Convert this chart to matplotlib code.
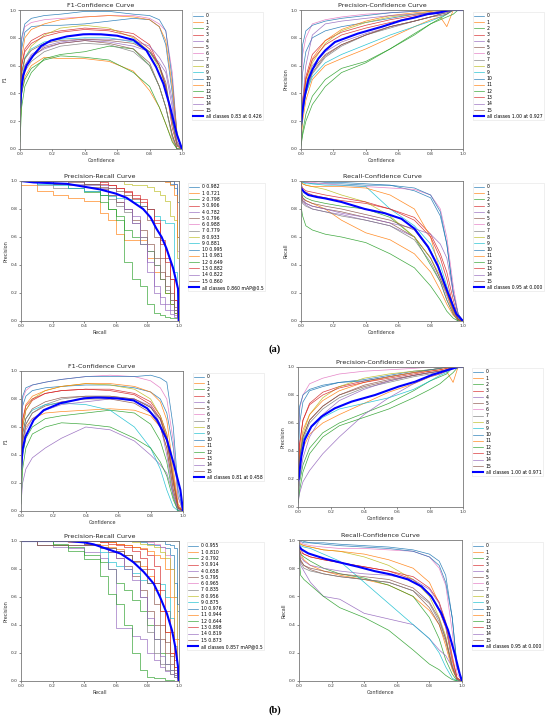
import matplotlib
matplotlib.use('Agg')
import matplotlib.pyplot as plt

W, H = 550, 718

CLASSES = [str(i) for i in range(16)]
CONF = [0, 0.01, 0.03, 0.07, 0.15, 0.25, 0.4, 0.55, 0.7, 0.8, 0.86, 0.9, 0.94, 0.97, 1.0]
RECALL = [0, 0.1, 0.2, 0.3, 0.4, 0.5, 0.55, 0.6, 0.65, 0.7, 0.75, 0.8, 0.84, 0.88, 0.91, 0.94, 0.97, 0.99, 1.0]

# ---------------- (a) ----------------
F1_A = [
    [0.35, 0.72, 0.84, 0.88, 0.89, 0.89, 0.9, 0.92, 0.94, 0.93, 0.88, 0.75, 0.4, 0.1, 0.0],
    [0.1, 0.4, 0.52, 0.6, 0.66, 0.65, 0.65, 0.63, 0.56, 0.42, 0.3, 0.18, 0.06, 0.0, 0.0],
    [0.05, 0.3, 0.45, 0.55, 0.65, 0.68, 0.7, 0.74, 0.72, 0.6, 0.45, 0.3, 0.1, 0.0, 0.0],
    [0.3, 0.6, 0.72, 0.78, 0.83, 0.85, 0.87, 0.86, 0.83, 0.75, 0.6, 0.45, 0.2, 0.05, 0.0],
    [0.2, 0.5, 0.6, 0.67, 0.72, 0.76, 0.78, 0.77, 0.74, 0.7, 0.62, 0.55, 0.3, 0.05, 0.0],
    [0.15, 0.45, 0.58, 0.66, 0.73, 0.76, 0.78, 0.76, 0.72, 0.62, 0.45, 0.3, 0.1, 0.0, 0.0],
    [0.4, 0.78, 0.88, 0.91, 0.93, 0.94, 0.95, 0.96, 0.96, 0.94, 0.9, 0.85, 0.55, 0.1, 0.0],
    [0.15, 0.45, 0.56, 0.63, 0.7, 0.74, 0.76, 0.75, 0.7, 0.6, 0.45, 0.3, 0.08, 0.0, 0.0],
    [0.2, 0.5, 0.65, 0.74, 0.82, 0.87, 0.89, 0.87, 0.8, 0.7, 0.58, 0.45, 0.2, 0.03, 0.0],
    [0.25, 0.55, 0.66, 0.72, 0.77, 0.79, 0.8, 0.8, 0.77, 0.7, 0.6, 0.45, 0.2, 0.03, 0.0],
    [0.45, 0.8, 0.9, 0.94, 0.96, 0.97, 0.99, 0.99, 0.97, 0.96, 0.93, 0.85, 0.5, 0.1, 0.0],
    [0.3, 0.65, 0.8, 0.86, 0.9, 0.93, 0.95, 0.96, 0.95, 0.93, 0.88, 0.78, 0.45, 0.1, 0.0],
    [0.1, 0.4, 0.5, 0.58, 0.64, 0.67, 0.66, 0.64, 0.55, 0.45, 0.3, 0.18, 0.05, 0.0, 0.0],
    [0.3, 0.6, 0.7, 0.76, 0.81, 0.84, 0.86, 0.85, 0.81, 0.72, 0.6, 0.45, 0.15, 0.02, 0.0],
    [0.2, 0.5, 0.6, 0.68, 0.74, 0.77, 0.79, 0.79, 0.78, 0.74, 0.66, 0.58, 0.35, 0.08, 0.0],
    [0.25, 0.55, 0.65, 0.71, 0.76, 0.78, 0.79, 0.78, 0.76, 0.7, 0.6, 0.48, 0.2, 0.03, 0.0],
]
F1_A_ALL_X = [0, 0.01, 0.02, 0.04, 0.08, 0.13, 0.19, 0.29, 0.39, 0.43, 0.5, 0.6, 0.7, 0.78, 0.84, 0.885, 0.925, 0.967, 1.0]
F1_A_ALL_Y = [0.3, 0.45, 0.53, 0.6, 0.67, 0.74, 0.78, 0.81, 0.825, 0.826, 0.825, 0.815, 0.785, 0.71, 0.59, 0.47, 0.31, 0.11, 0.0]

PC_A = [
    [0.3, 0.55, 0.7, 0.8, 0.85, 0.88, 0.91, 0.94, 0.97, 0.98, 0.99, 1.0, 1.0, 1.0, 1.0],
    [0.05, 0.2, 0.35, 0.5, 0.6, 0.65, 0.72, 0.8, 0.88, 0.93, 0.95, 0.88, 1.0, 1.0, 1.0],
    [0.03, 0.12, 0.25, 0.38, 0.5, 0.58, 0.63, 0.72, 0.83, 0.9, 0.94, 0.97, 1.0, 1.0, 1.0],
    [0.15, 0.35, 0.52, 0.68, 0.78, 0.84, 0.89, 0.93, 0.96, 0.98, 0.99, 1.0, 1.0, 1.0, 1.0],
    [0.1, 0.3, 0.45, 0.6, 0.7, 0.77, 0.83, 0.88, 0.92, 0.95, 0.97, 0.99, 1.0, 1.0, 1.0],
    [0.08, 0.28, 0.42, 0.55, 0.67, 0.75, 0.82, 0.88, 0.92, 0.95, 0.97, 0.98, 1.0, 1.0, 1.0],
    [0.35, 0.68, 0.8, 0.9, 0.93, 0.95, 0.97, 0.98, 0.99, 1.0, 1.0, 1.0, 1.0, 1.0, 1.0],
    [0.08, 0.25, 0.4, 0.54, 0.66, 0.74, 0.82, 0.87, 0.92, 0.95, 0.97, 0.98, 1.0, 1.0, 1.0],
    [0.1, 0.3, 0.47, 0.62, 0.76, 0.85, 0.91, 0.95, 0.97, 0.99, 1.0, 1.0, 1.0, 1.0, 1.0],
    [0.1, 0.25, 0.4, 0.52, 0.62, 0.68, 0.75, 0.82, 0.88, 0.92, 0.95, 0.97, 1.0, 1.0, 1.0],
    [0.5, 0.75, 0.85, 0.89, 0.92, 0.94, 0.96, 0.98, 0.99, 1.0, 1.0, 1.0, 1.0, 1.0, 1.0],
    [0.15, 0.35, 0.5, 0.65, 0.78, 0.86, 0.92, 0.96, 0.98, 0.99, 1.0, 1.0, 1.0, 1.0, 1.0],
    [0.02, 0.1, 0.2, 0.32, 0.45, 0.55, 0.62, 0.72, 0.82, 0.9, 0.93, 0.95, 0.97, 1.0, 1.0],
    [0.12, 0.32, 0.5, 0.64, 0.75, 0.82, 0.87, 0.91, 0.95, 0.97, 0.98, 0.99, 1.0, 1.0, 1.0],
    [0.1, 0.35, 0.6, 0.82, 0.9, 0.92, 0.94, 0.96, 0.97, 0.98, 0.99, 1.0, 1.0, 1.0, 1.0],
    [0.1, 0.28, 0.43, 0.57, 0.68, 0.75, 0.82, 0.88, 0.92, 0.95, 0.96, 0.97, 1.0, 1.0, 1.0],
]
PC_A_ALL_X = [0, 0.01, 0.02, 0.045, 0.07, 0.107, 0.15, 0.21, 0.28, 0.35, 0.5, 0.62, 0.7, 0.78, 0.85, 0.9, 0.927, 1.0]
PC_A_ALL_Y = [0.18, 0.28, 0.36, 0.5, 0.57, 0.65, 0.71, 0.77, 0.8, 0.83, 0.88, 0.925, 0.945, 0.97, 0.98, 0.995, 1.0, 1.0]

PR_A = [
    [1, 1, 1, 1, 1, 1, 1, 1, 1, 1, 1, 1, 1, 1, 1, 0.98, 0.95, 0.6, 0.0],
    [0.97, 0.93, 0.9, 0.88, 0.86, 0.77, 0.72, 0.62, 0.58, 0.58, 0.58, 0.45, 0.35, 0.3, 0.2, 0.12, 0.06, 0.02, 0.0],
    [1, 1, 0.98, 0.95, 0.92, 0.85, 0.8, 0.75, 0.65, 0.6, 0.55, 0.5, 0.4, 0.3, 0.2, 0.12, 0.06, 0.02, 0.0],
    [1, 1, 1, 1, 1, 0.99, 0.97, 0.95, 0.93, 0.9, 0.87, 0.8, 0.7, 0.55, 0.45, 0.3, 0.15, 0.05, 0.0],
    [1, 1, 1, 0.98, 0.97, 0.95, 0.9, 0.85, 0.8, 0.75, 0.6, 0.42, 0.25, 0.17, 0.12, 0.08, 0.04, 0.02, 0.0],
    [1, 1, 0.98, 0.97, 0.96, 0.94, 0.9, 0.85, 0.8, 0.72, 0.65, 0.55, 0.45, 0.35, 0.25, 0.15, 0.08, 0.03, 0.0],
    [1, 1, 1, 1, 1, 1, 1, 1, 1, 1, 1, 1, 1, 1, 1, 1, 0.98, 0.5, 0.0],
    [1, 0.97, 0.95, 0.95, 0.93, 0.9, 0.87, 0.82, 0.78, 0.7, 0.6, 0.5, 0.4, 0.3, 0.22, 0.15, 0.08, 0.03, 0.0],
    [1, 1, 1, 1, 1, 1, 1, 1, 0.98, 0.97, 0.97, 0.96, 0.93, 0.9, 0.86, 0.75, 0.72, 0.45, 0.0],
    [1, 0.98, 0.97, 0.95, 0.93, 0.9, 0.89, 0.88, 0.87, 0.85, 0.82, 0.8, 0.75, 0.72, 0.7, 0.7, 0.35, 0.1, 0.0],
    [1, 1, 1, 1, 1, 1, 1, 1, 1, 1, 1, 1, 1, 1, 1, 1, 0.98, 0.85, 0.0],
    [1, 1, 1, 1, 1, 1, 1, 1, 1, 1, 1, 1, 1, 1, 0.99, 0.97, 0.9, 0.6, 0.0],
    [1, 1, 1, 1, 0.98, 0.9, 0.8, 0.72, 0.42, 0.3, 0.25, 0.12, 0.06, 0.04, 0.03, 0.02, 0.02, 0.02, 0.0],
    [1, 1, 1, 1, 1, 0.98, 0.97, 0.95, 0.92, 0.88, 0.85, 0.8, 0.72, 0.58, 0.42, 0.3, 0.15, 0.05, 0.0],
    [1, 1, 1, 1, 0.98, 0.97, 0.95, 0.9, 0.8, 0.7, 0.55, 0.35, 0.2, 0.12, 0.08, 0.05, 0.03, 0.01, 0.0],
    [1, 1, 1, 0.99, 0.98, 0.96, 0.95, 0.93, 0.9, 0.87, 0.82, 0.72, 0.6, 0.45, 0.32, 0.2, 0.1, 0.03, 0.0],
]
MAP_A = [0.982, 0.721, 0.798, 0.906, 0.782, 0.796, 0.988, 0.779, 0.933, 0.881, 0.995, 0.981, 0.649, 0.882, 0.822, 0.860]
PR_A_ALL_X = [0, 0.08, 0.29, 0.5, 0.6, 0.668, 0.773, 0.82, 0.857, 0.89, 0.92, 0.962, 0.994, 1.0]
PR_A_ALL_Y = [1.0, 0.99, 0.98, 0.94, 0.91, 0.88, 0.8, 0.74, 0.66, 0.6, 0.52, 0.38, 0.23, 0.0]

RC_A = [
    [1.0, 0.99, 0.99, 0.98, 0.98, 0.98, 0.97, 0.97, 0.93, 0.88, 0.75, 0.55, 0.2, 0.05, 0.0],
    [0.92, 0.88, 0.86, 0.84, 0.8, 0.72, 0.63, 0.58, 0.48, 0.35, 0.22, 0.12, 0.04, 0.01, 0.0],
    [0.95, 0.9, 0.88, 0.86, 0.84, 0.82, 0.8, 0.74, 0.6, 0.4, 0.28, 0.15, 0.05, 0.0, 0.0],
    [0.95, 0.93, 0.92, 0.9, 0.88, 0.86, 0.84, 0.8, 0.74, 0.62, 0.48, 0.35, 0.15, 0.02, 0.0],
    [0.9, 0.85, 0.83, 0.8, 0.78, 0.76, 0.72, 0.68, 0.6, 0.45, 0.3, 0.18, 0.06, 0.0, 0.0],
    [0.9, 0.86, 0.84, 0.82, 0.8, 0.78, 0.74, 0.7, 0.6, 0.45, 0.3, 0.2, 0.07, 0.01, 0.0],
    [1.0, 1.0, 0.99, 0.99, 0.98, 0.97, 0.96, 0.95, 0.94, 0.9, 0.8, 0.6, 0.25, 0.05, 0.0],
    [0.88, 0.84, 0.82, 0.8, 0.78, 0.75, 0.72, 0.68, 0.58, 0.42, 0.28, 0.15, 0.05, 0.0, 0.0],
    [1.0, 0.98, 0.97, 0.96, 0.94, 0.9, 0.85, 0.75, 0.6, 0.45, 0.32, 0.2, 0.08, 0.01, 0.0],
    [1.0, 0.99, 0.98, 0.98, 0.97, 0.97, 0.96, 0.8, 0.68, 0.55, 0.4, 0.25, 0.1, 0.02, 0.0],
    [1.0, 1.0, 1.0, 1.0, 0.99, 0.99, 0.98, 0.97, 0.95, 0.9, 0.78, 0.55, 0.2, 0.05, 0.0],
    [1.0, 0.98, 0.97, 0.96, 0.96, 0.96, 0.95, 0.9, 0.8, 0.6, 0.35, 0.2, 0.06, 0.01, 0.0],
    [0.82, 0.75, 0.68, 0.65, 0.62, 0.6, 0.56, 0.48, 0.38, 0.25, 0.15, 0.07, 0.02, 0.0, 0.0],
    [0.98, 0.95, 0.93, 0.92, 0.9, 0.88, 0.85, 0.8, 0.72, 0.6, 0.45, 0.3, 0.1, 0.01, 0.0],
    [0.95, 0.88, 0.84, 0.82, 0.8, 0.77, 0.74, 0.7, 0.66, 0.62, 0.55, 0.45, 0.2, 0.05, 0.0],
    [0.92, 0.88, 0.86, 0.84, 0.82, 0.8, 0.76, 0.72, 0.65, 0.5, 0.35, 0.22, 0.08, 0.01, 0.0],
]
RC_A_ALL_X = [0, 0.02, 0.045, 0.1, 0.148, 0.25, 0.394, 0.517, 0.62, 0.7, 0.784, 0.846, 0.907, 0.959, 1.0]
RC_A_ALL_Y = [0.95, 0.92, 0.9, 0.885, 0.876, 0.85, 0.8, 0.77, 0.73, 0.66, 0.53, 0.39, 0.2, 0.05, 0.0]

# ---------------- (b) ----------------
F1_B = [
    [0.4, 0.75, 0.82, 0.86, 0.88, 0.89, 0.9, 0.9, 0.88, 0.85, 0.8, 0.7, 0.45, 0.1, 0.0],
    [0.2, 0.5, 0.6, 0.66, 0.7, 0.71, 0.72, 0.73, 0.72, 0.68, 0.6, 0.45, 0.15, 0.02, 0.0],
    [0.1, 0.4, 0.52, 0.6, 0.66, 0.68, 0.7, 0.72, 0.7, 0.62, 0.5, 0.35, 0.1, 0.0, 0.0],
    [0.3, 0.6, 0.72, 0.79, 0.84, 0.86, 0.87, 0.87, 0.84, 0.78, 0.68, 0.55, 0.25, 0.03, 0.0],
    [0.05, 0.2, 0.3, 0.38, 0.45, 0.52, 0.6, 0.58, 0.5, 0.4, 0.33, 0.27, 0.12, 0.0, 0.0],
    [0.2, 0.5, 0.62, 0.7, 0.75, 0.78, 0.8, 0.8, 0.77, 0.7, 0.6, 0.45, 0.15, 0.02, 0.0],
    [0.5, 0.8, 0.86, 0.9, 0.92, 0.94, 0.96, 0.97, 0.96, 0.93, 0.88, 0.8, 0.5, 0.1, 0.0],
    [0.2, 0.5, 0.62, 0.7, 0.76, 0.8, 0.82, 0.82, 0.8, 0.74, 0.65, 0.5, 0.2, 0.02, 0.0],
    [0.25, 0.6, 0.72, 0.8, 0.86, 0.89, 0.91, 0.9, 0.87, 0.8, 0.68, 0.55, 0.25, 0.03, 0.0],
    [0.25, 0.55, 0.66, 0.72, 0.76, 0.77, 0.76, 0.72, 0.6, 0.45, 0.3, 0.15, 0.03, 0.0, 0.0],
    [0.6, 0.82, 0.88, 0.9, 0.92, 0.94, 0.96, 0.96, 0.96, 0.97, 0.95, 0.92, 0.6, 0.15, 0.0],
    [0.3, 0.65, 0.76, 0.82, 0.86, 0.89, 0.91, 0.91, 0.89, 0.85, 0.78, 0.65, 0.3, 0.05, 0.0],
    [0.05, 0.3, 0.45, 0.55, 0.6, 0.63, 0.62, 0.6, 0.52, 0.45, 0.35, 0.25, 0.08, 0.0, 0.0],
    [0.3, 0.65, 0.75, 0.8, 0.84, 0.86, 0.87, 0.86, 0.83, 0.76, 0.66, 0.52, 0.22, 0.03, 0.0],
    [0.2, 0.45, 0.58, 0.66, 0.72, 0.76, 0.78, 0.8, 0.8, 0.75, 0.62, 0.4, 0.12, 0.01, 0.0],
    [0.25, 0.55, 0.66, 0.73, 0.78, 0.81, 0.82, 0.82, 0.8, 0.74, 0.66, 0.52, 0.2, 0.02, 0.0],
]
F1_B_ALL_X = [0, 0.01, 0.027, 0.078, 0.14, 0.243, 0.387, 0.458, 0.49, 0.593, 0.695, 0.778, 0.84, 0.9, 0.942, 0.984, 1.0]
F1_B_ALL_Y = [0.3, 0.44, 0.53, 0.65, 0.72, 0.77, 0.805, 0.81, 0.81, 0.805, 0.79, 0.734, 0.65, 0.51, 0.34, 0.15, 0.0]

PC_B = [
    [0.3, 0.6, 0.75, 0.83, 0.86, 0.89, 0.91, 0.94, 0.97, 0.98, 0.99, 1.0, 1.0, 1.0, 1.0],
    [0.1, 0.3, 0.42, 0.52, 0.6, 0.66, 0.74, 0.82, 0.88, 0.93, 0.95, 0.97, 0.89, 1.0, 1.0],
    [0.05, 0.18, 0.3, 0.42, 0.53, 0.6, 0.67, 0.74, 0.83, 0.9, 0.93, 0.95, 1.0, 1.0, 1.0],
    [0.2, 0.45, 0.62, 0.74, 0.82, 0.86, 0.9, 0.93, 0.96, 0.98, 0.99, 1.0, 1.0, 1.0, 1.0],
    [0.02, 0.1, 0.18, 0.26, 0.38, 0.5, 0.66, 0.78, 0.88, 0.93, 0.95, 0.97, 1.0, 1.0, 1.0],
    [0.12, 0.35, 0.5, 0.62, 0.72, 0.8, 0.86, 0.9, 0.94, 0.96, 0.97, 0.98, 1.0, 1.0, 1.0],
    [0.4, 0.7, 0.8, 0.88, 0.92, 0.95, 0.97, 0.98, 0.99, 1.0, 1.0, 1.0, 1.0, 1.0, 1.0],
    [0.12, 0.33, 0.48, 0.6, 0.7, 0.78, 0.85, 0.89, 0.93, 0.95, 0.96, 0.98, 1.0, 1.0, 1.0],
    [0.12, 0.35, 0.52, 0.66, 0.78, 0.86, 0.92, 0.95, 0.97, 0.98, 0.99, 1.0, 1.0, 1.0, 1.0],
    [0.15, 0.35, 0.48, 0.56, 0.64, 0.7, 0.74, 0.78, 0.84, 0.9, 0.94, 0.96, 1.0, 1.0, 1.0],
    [0.45, 0.72, 0.8, 0.84, 0.87, 0.89, 0.9, 0.93, 0.96, 0.98, 0.99, 1.0, 1.0, 1.0, 1.0],
    [0.15, 0.4, 0.55, 0.66, 0.76, 0.83, 0.89, 0.93, 0.96, 0.97, 0.98, 0.99, 1.0, 1.0, 1.0],
    [0.03, 0.12, 0.25, 0.38, 0.5, 0.58, 0.64, 0.7, 0.78, 0.84, 0.88, 0.92, 0.96, 1.0, 1.0],
    [0.2, 0.45, 0.62, 0.73, 0.8, 0.85, 0.89, 0.92, 0.95, 0.97, 0.98, 0.99, 1.0, 1.0, 1.0],
    [0.05, 0.2, 0.35, 0.5, 0.66, 0.76, 0.84, 0.9, 0.94, 0.96, 0.97, 0.98, 1.0, 1.0, 1.0],
    [0.12, 0.35, 0.5, 0.62, 0.72, 0.8, 0.87, 0.91, 0.94, 0.96, 0.97, 0.98, 1.0, 1.0, 1.0],
]
PC_B_ALL_X = [0, 0.004, 0.02, 0.04, 0.081, 0.142, 0.223, 0.325, 0.467, 0.609, 0.71, 0.811, 0.913, 0.971, 1.0]
PC_B_ALL_Y = [0.19, 0.2, 0.36, 0.48, 0.575, 0.646, 0.705, 0.753, 0.8, 0.86, 0.895, 0.943, 0.98, 1.0, 1.0]

PR_B = [
    [1, 1, 1, 1, 1, 1, 1, 1, 1, 1, 0.99, 0.98, 0.97, 0.96, 0.95, 0.9, 0.7, 0.5, 0.0],
    [1, 1, 1, 0.99, 0.98, 0.97, 0.96, 0.94, 0.9, 0.86, 0.82, 0.75, 0.65, 0.5, 0.35, 0.2, 0.1, 0.03, 0.0],
    [1, 1, 0.98, 0.96, 0.9, 0.85, 0.8, 0.7, 0.65, 0.58, 0.5, 0.4, 0.3, 0.2, 0.12, 0.08, 0.04, 0.02, 0.0],
    [1, 1, 1, 1, 1, 1, 0.99, 0.98, 0.97, 0.96, 0.94, 0.9, 0.82, 0.65, 0.5, 0.35, 0.15, 0.05, 0.0],
    [1, 0.97, 0.96, 0.95, 0.92, 0.88, 0.8, 0.38, 0.38, 0.32, 0.3, 0.2, 0.15, 0.1, 0.07, 0.05, 0.03, 0.01, 0.0],
    [1, 1, 1, 1, 0.98, 0.95, 0.92, 0.88, 0.82, 0.75, 0.65, 0.5, 0.4, 0.3, 0.2, 0.12, 0.06, 0.02, 0.0],
    [1, 1, 1, 1, 1, 1, 1, 1, 1, 1, 1, 0.99, 0.98, 0.96, 0.9, 0.8, 0.6, 0.3, 0.0],
    [1, 0.97, 0.97, 0.97, 0.97, 0.96, 0.95, 0.93, 0.9, 0.85, 0.6, 0.35, 0.2, 0.12, 0.08, 0.05, 0.03, 0.01, 0.0],
    [1, 1, 1, 1, 1, 1, 1, 1, 1, 0.99, 0.98, 0.97, 0.96, 0.92, 0.88, 0.8, 0.6, 0.3, 0.0],
    [1, 1, 1, 1, 0.97, 0.92, 0.85, 0.82, 0.8, 0.77, 0.72, 0.7, 0.7, 0.69, 0.6, 0.45, 0.25, 0.1, 0.0],
    [1, 1, 1, 1, 1, 1, 1, 1, 1, 1, 1, 1, 1, 1, 0.98, 0.97, 0.95, 0.55, 0.0],
    [1, 1, 1, 1, 1, 0.99, 0.99, 0.98, 0.97, 0.96, 0.95, 0.93, 0.9, 0.88, 0.8, 0.6, 0.3, 0.1, 0.0],
    [1, 1, 0.97, 0.93, 0.87, 0.75, 0.62, 0.55, 0.4, 0.2, 0.08, 0.03, 0.02, 0.02, 0.01, 0.01, 0.0, 0.0, 0.0],
    [1, 1, 1, 1, 1, 0.99, 0.98, 0.97, 0.96, 0.93, 0.88, 0.8, 0.7, 0.5, 0.35, 0.2, 0.1, 0.03, 0.0],
    [1, 1, 1, 1, 0.97, 0.95, 0.92, 0.88, 0.8, 0.72, 0.6, 0.45, 0.3, 0.18, 0.12, 0.08, 0.04, 0.01, 0.0],
    [1, 0.97, 0.97, 0.97, 0.97, 0.96, 0.95, 0.93, 0.9, 0.86, 0.8, 0.7, 0.55, 0.4, 0.28, 0.18, 0.08, 0.02, 0.0],
]
MAP_B = [0.955, 0.810, 0.792, 0.914, 0.658, 0.795, 0.965, 0.835, 0.956, 0.875, 0.976, 0.944, 0.644, 0.898, 0.819, 0.873]
PR_B_ALL_X = [0, 0.29, 0.4, 0.46, 0.54, 0.63, 0.71, 0.776, 0.84, 0.88, 0.924, 0.956, 0.977, 0.994, 1.0]
PR_B_ALL_Y = [1.0, 1.0, 0.99, 0.976, 0.945, 0.91, 0.85, 0.78, 0.695, 0.6, 0.48, 0.36, 0.24, 0.1, 0.0]

RC_B = [
    [1.0, 0.99, 0.98, 0.98, 0.98, 0.97, 0.96, 0.95, 0.93, 0.9, 0.85, 0.75, 0.45, 0.1, 0.0],
    [0.95, 0.9, 0.86, 0.82, 0.78, 0.75, 0.72, 0.68, 0.6, 0.5, 0.4, 0.25, 0.08, 0.01, 0.0],
    [0.95, 0.9, 0.88, 0.85, 0.8, 0.76, 0.73, 0.68, 0.6, 0.45, 0.3, 0.15, 0.05, 0.0, 0.0],
    [0.93, 0.91, 0.9, 0.88, 0.86, 0.84, 0.81, 0.78, 0.72, 0.62, 0.5, 0.38, 0.15, 0.02, 0.0],
    [0.9, 0.82, 0.78, 0.7, 0.6, 0.58, 0.48, 0.44, 0.4, 0.3, 0.22, 0.18, 0.1, 0.02, 0.0],
    [0.9, 0.85, 0.82, 0.79, 0.76, 0.74, 0.72, 0.7, 0.64, 0.52, 0.4, 0.28, 0.1, 0.01, 0.0],
    [1.0, 0.98, 0.97, 0.96, 0.95, 0.94, 0.94, 0.93, 0.92, 0.88, 0.8, 0.68, 0.35, 0.05, 0.0],
    [0.9, 0.84, 0.8, 0.78, 0.76, 0.74, 0.72, 0.7, 0.64, 0.55, 0.42, 0.3, 0.1, 0.01, 0.0],
    [0.98, 0.97, 0.96, 0.95, 0.93, 0.92, 0.88, 0.82, 0.72, 0.6, 0.45, 0.32, 0.1, 0.01, 0.0],
    [0.97, 0.96, 0.95, 0.94, 0.9, 0.85, 0.7, 0.55, 0.4, 0.3, 0.2, 0.1, 0.02, 0.0, 0.0],
    [1.0, 1.0, 0.99, 0.98, 0.97, 0.96, 0.95, 0.94, 0.92, 0.88, 0.82, 0.7, 0.45, 0.1, 0.0],
    [0.98, 0.97, 0.96, 0.95, 0.93, 0.92, 0.9, 0.86, 0.8, 0.7, 0.55, 0.4, 0.15, 0.02, 0.0],
    [0.88, 0.75, 0.72, 0.68, 0.6, 0.52, 0.45, 0.36, 0.22, 0.12, 0.08, 0.04, 0.01, 0.0, 0.0],
    [0.96, 0.93, 0.9, 0.88, 0.86, 0.84, 0.81, 0.78, 0.74, 0.66, 0.56, 0.42, 0.18, 0.02, 0.0],
    [0.93, 0.88, 0.85, 0.82, 0.8, 0.78, 0.76, 0.75, 0.72, 0.65, 0.55, 0.4, 0.12, 0.01, 0.0],
    [0.92, 0.86, 0.82, 0.8, 0.78, 0.76, 0.74, 0.72, 0.66, 0.56, 0.44, 0.3, 0.1, 0.01, 0.0],
]
RC_B_ALL_X = [0, 0.016, 0.057, 0.159, 0.261, 0.363, 0.465, 0.567, 0.669, 0.751, 0.812, 0.873, 0.914, 0.955, 0.986, 1.0]
RC_B_ALL_Y = [0.957, 0.933, 0.905, 0.867, 0.838, 0.81, 0.779, 0.755, 0.72, 0.671, 0.6, 0.48, 0.362, 0.195, 0.05, 0.0]

TICKS = [0.0, 0.2, 0.4, 0.6, 0.8, 1.0]

fig = plt.figure(figsize=(W / 100, H / 100), dpi=100)
fig.patch.set_facecolor('white')


def panel(rect, leg, title, xlabel, ylabel, xs, curves, labels, ax_x, ax_y, all_label, steps=False):
    l, r, t, b = rect
    ax = fig.add_axes([l / W, 1 - b / H, (r - l) / W, (b - t) / H])
    for i, ys in enumerate(curves):
        ax.plot(xs, ys, color=f'C{i % 10}', lw=0.5, alpha=0.9, label=labels[i],
                drawstyle='steps-post' if steps else 'default')
    ax.plot(ax_x, ax_y, color='blue', lw=1.5, label=all_label)
    ax.set_xlim(0, 1)
    ax.set_ylim(0, 1)
    ax.set_xticks(TICKS)
    ax.set_yticks(TICKS)
    ax.set_xticklabels([f'{v:.1f}' for v in TICKS])
    ax.set_yticklabels([f'{v:.1f}' for v in TICKS])
    ax.tick_params(labelsize=3.2, length=1.5, width=0.4, pad=1, colors='#333333')
    for s in ax.spines.values():
        s.set_color('#777777')
        s.set_linewidth(0.6)
    ax.set_title(title, fontsize=4.6, pad=2, color='#222222')
    ax.set_xlabel(xlabel, fontsize=3.5, labelpad=1, color='#333333')
    ax.set_ylabel(ylabel, fontsize=3.5, labelpad=1.5, color='#333333')
    lx, ly = leg
    lg = ax.legend(loc='upper left', bbox_to_anchor=(lx / W, 1 - ly / H),
                   bbox_transform=fig.transFigure, fontsize=3.3, handlelength=2.0,
                   labelspacing=0.28, borderpad=0.3, borderaxespad=0, handletextpad=0.7,
                   frameon=True, fancybox=False)
    lg.get_frame().set_edgecolor('#dddddd')
    lg.get_frame().set_linewidth(0.4)
    return ax


cls_labels = CLASSES
pr_a_labels = [f'{c} {m:.3f}' for c, m in zip(CLASSES, MAP_A)]
pr_b_labels = [f'{c} {m:.3f}' for c, m in zip(CLASSES, MAP_B)]

panel((20, 182, 10, 149), (192, 12), 'F1-Confidence Curve', 'Confidence', 'F1',
      CONF, F1_A, cls_labels, F1_A_ALL_X, F1_A_ALL_Y, 'all classes 0.83 at 0.426')
panel((301, 463, 10, 149), (473, 12), 'Precision-Confidence Curve', 'Confidence', 'Precision',
      CONF, PC_A, cls_labels, PC_A_ALL_X, PC_A_ALL_Y, 'all classes 1.00 at 0.927')
panel((21, 179, 181, 321), (188, 183), 'Precision-Recall Curve', 'Recall', 'Precision',
      RECALL, PR_A, pr_a_labels, PR_A_ALL_X, PR_A_ALL_Y, 'all classes 0.860 mAP@0.5', steps=True)
panel((301, 463, 181, 321), (473, 183), 'Recall-Confidence Curve', 'Confidence', 'Recall',
      CONF, RC_A, cls_labels, RC_A_ALL_X, RC_A_ALL_Y, 'all classes 0.95 at 0.000')

panel((21, 183, 371, 511), (193, 373), 'F1-Confidence Curve', 'Confidence', 'F1',
      CONF, F1_B, cls_labels, F1_B_ALL_X, F1_B_ALL_Y, 'all classes 0.81 at 0.458')
panel((298, 463, 367, 507), (472, 368), 'Precision-Confidence Curve', 'Confidence', 'Precision',
      CONF, PC_B, cls_labels, PC_B_ALL_X, PC_B_ALL_Y, 'all classes 1.00 at 0.971')
panel((21, 179, 541, 681), (187, 542), 'Precision-Recall Curve', 'Recall', 'Precision',
      RECALL, PR_B, pr_b_labels, PR_B_ALL_X, PR_B_ALL_Y, 'all classes 0.857 mAP@0.5', steps=True)
panel((299, 462, 540, 681), (472, 542), 'Recall-Confidence Curve', 'Confidence', 'Recall',
      CONF, RC_B, cls_labels, RC_B_ALL_X, RC_B_ALL_Y, 'all classes 0.95 at 0.000')

fig.text(275 / W, 1 - 349 / H, '(a)', ha='center', va='center', fontsize=7.5,
         family='Liberation Serif', weight='bold')
fig.text(275 / W, 1 - 710 / H, '(b)', ha='center', va='center', fontsize=7.5,
         family='Liberation Serif', weight='bold')

fig.savefig('out.png', dpi=100, facecolor='white')
